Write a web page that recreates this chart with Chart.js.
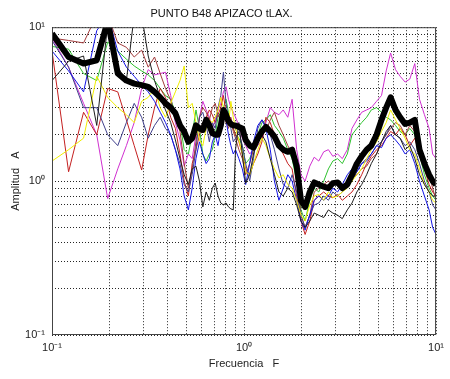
<!DOCTYPE html>
<html>
<head>
<meta charset="utf-8">
<script src="https://cdn.jsdelivr.net/npm/chart.js@4"></script>
<style>
  html, body { margin: 0; padding: 0; background: #fff; }
  #wrap { width: 450px; height: 379px; }
</style>
</head>
<body>
<div id="wrap"><canvas id="myChart"></canvas></div>
<script>
// frequencies (Hz) shared by all spectra
const freq = [
  0.1, 0.122, 0.146, 0.171, 0.195, 0.22, 0.244, 0.268, 0.293, 0.317,
  0.342, 0.366, 0.39, 0.415, 0.439, 0.464, 0.488, 0.513, 0.537, 0.562,
  0.586, 0.61, 0.635, 0.66, 0.684, 0.708, 0.732, 0.757, 0.781, 0.806,
  0.83, 0.854, 0.879, 0.903, 0.94, 0.98, 1.02, 1.07, 1.12, 1.18,
  1.24, 1.3, 1.37, 1.44, 1.52, 1.6, 1.69, 1.78, 1.88, 1.98,
  2.08, 2.2, 2.32, 2.45, 2.6, 2.75, 2.9, 3.07, 3.25, 3.45,
  3.65, 3.87, 4.1, 4.35, 4.6, 4.9, 5.2, 5.5, 5.8, 6.15,
  6.5, 6.9, 7.3, 7.75, 8.2, 8.7, 9.2, 9.6, 10
];

const promedio = [
  9.1, 6.4, 5.8, 6.1, 11, 5.0, 4.5, 4.3, 4.2, 4.1,
  3.8, 3.5, 3.2, 3.0, 2.76, 2.3, 2.1, 1.8, 1.9, 2.3,
  2.2, 2.15, 2.5, 2.3, 2.05, 2.0, 2.0, 2.3, 2.9, 2.7,
  2.45, 2.35, 2.3, 2.3, 2.25, 2.2, 1.85, 1.7, 1.65, 1.9,
  2.1, 2.25, 2.1, 1.95, 1.7, 1.6, 1.55, 1.6, 1.25, 0.75,
  0.68, 0.85, 0.98, 0.95, 0.92, 0.9, 0.97, 0.98, 0.9, 0.95,
  1.1, 1.3, 1.45, 1.6, 1.7, 2.0, 2.5, 3.0, 3.5, 2.9,
  2.6, 2.35, 2.4, 2.5, 1.6, 1.3, 1.1, 1.0, 0.95
];

const magenta = [
  8.5, 5.5, 3.2, 2.0, 0.77, 1.2, 1.7, 2.4, 4.0, 5.3,
  4.9, 5.0, 5.1, 3.6, 2.4, 1.85, 1.25, 1.5, 1.4, 2.0,
  2.6, 3.3, 2.9, 2.6, 2.2, 2.5, 2.9, 3.2, 3.8, 4.1,
  3.4, 3.0, 2.8, 2.6, 2.3, 1.9, 1.7, 1.5, 1.6, 1.7,
  1.85, 2.4, 3.0, 2.8, 2.7, 2.9, 2.6, 3.4, 1.6, 1.1,
  1.0, 1.25, 1.43, 1.35, 1.55, 1.6, 1.45, 1.5, 1.4, 1.6,
  2.2, 2.5, 2.8, 2.9, 3.0, 3.3, 3.6, 5.2, 6.8, 5.3,
  4.8, 4.4, 4.6, 5.8, 3.4, 2.7, 2.2, 1.5, 1.4
];

const verde = [
  7.5, 7.2, 5.0, 4.5, 8.0, 7.0, 6.2, 5.6, 5.2, 4.9,
  4.5, 4.0, 3.6, 3.4, 2.8, 2.4, 1.6, 1.5, 2.0, 2.9,
  2.2, 1.5, 1.35, 1.5, 1.6, 2.0, 2.6, 2.8, 3.0, 3.4,
  2.8, 2.4, 2.2, 2.0, 1.9, 1.7, 1.3, 1.4, 1.6, 2.0,
  2.4, 2.5, 2.7, 2.3, 2.1, 1.9, 1.6, 1.4, 1.0, 0.65,
  0.55, 0.75, 0.9, 0.85, 1.0, 1.2, 1.35, 1.4, 1.3, 1.5,
  2.0, 2.2, 2.4, 2.6, 2.9, 3.0, 2.8, 2.6, 2.5, 2.3,
  2.1, 2.0, 2.2, 2.0, 1.5, 1.1, 0.9, 0.8, 0.75
];

const rojo = [
  7.0, 1.15, 2.8, 2.0, 4.0, 3.8, 2.5, 1.7, 1.18, 2.0,
  3.0, 4.0, 3.5, 2.6, 2.2, 1.5, 1.0, 0.8, 1.3, 1.6,
  2.0, 2.4, 2.6, 2.9, 2.7, 2.4, 2.7, 3.0, 3.6, 2.8,
  2.5, 2.6, 2.2, 2.0, 1.8, 1.5, 1.2, 1.1, 1.3, 1.5,
  1.8, 2.6, 2.4, 2.0, 1.7, 1.5, 1.3, 1.2, 0.8, 0.55,
  0.45, 0.55, 0.75, 0.8, 0.85, 0.8, 0.78, 0.82, 0.75, 0.8,
  0.85, 0.95, 1.1, 1.3, 1.45, 1.6, 1.7, 1.9, 2.1, 2.0,
  2.2, 2.0, 1.7, 1.9, 1.5, 1.2, 0.95, 0.85, 0.8
];

const cafe = [
  8.5, 8.2, 7.9, 12, 12, 7.9, 7.4, 6.4, 7.1, 5.5,
  6.4, 5.0, 4.0, 3.35, 2.6, 2.1, 1.3, 0.9, 1.2, 1.8,
  2.6, 3.0, 2.8, 2.5, 3.0, 3.2, 2.7, 2.5, 2.8, 2.4,
  2.2, 2.5, 2.1, 1.9, 1.6, 1.4, 1.1, 1.3, 1.6, 1.9,
  2.2, 2.1, 2.5, 2.8, 2.3, 2.0, 1.7, 1.5, 1.1, 0.6,
  0.5, 0.6, 0.85, 0.9, 0.95, 1.0, 0.95, 1.0, 0.9, 0.95,
  1.05, 1.1, 1.2, 1.25, 1.4, 1.5, 1.8, 2.0, 2.2, 2.4,
  2.3, 2.0, 2.3, 2.1, 1.7, 1.3, 1.1, 0.9, 0.75
];

const marino = [
  8.2, 5.5, 3.0, 3.0, 2.0, 1.7, 2.4, 3.2, 2.6, 1.9,
  2.3, 2.6, 2.2, 2.0, 1.6, 1.3, 0.95, 0.85, 1.1, 1.6,
  2.6, 2.8, 2.3, 1.8, 2.4, 2.2, 3.0, 3.6, 5.1, 3.2,
  2.6, 2.2, 1.8, 1.9, 2.1, 1.7, 1.3, 1.0, 1.4, 2.2,
  2.5, 2.3, 2.0, 1.6, 1.2, 0.95, 0.9, 1.1, 0.85, 0.6,
  0.5, 0.6, 0.7, 0.72, 0.8, 0.75, 0.85, 0.8, 0.85, 0.95,
  1.0, 1.15, 1.3, 1.4, 1.5, 1.7, 1.8, 2.0, 2.3, 2.0,
  1.9, 1.7, 1.8, 1.6, 1.3, 1.0, 0.85, 0.7, 0.65
];

const azul = [
  7.0, 5.2, 3.8, 9.5, 12, 7.0, 5.5, 4.8, 4.2, 3.8,
  3.3, 2.8, 2.4, 2.0, 1.6, 1.2, 0.8, 0.65, 0.9, 1.4,
  1.8, 1.5, 1.3, 1.4, 1.8, 2.0, 1.7, 2.2, 2.8, 2.5,
  2.0, 1.7, 1.5, 1.6, 1.4, 1.2, 0.95, 1.3, 1.8, 2.3,
  2.5, 2.2, 1.6, 1.0, 0.75, 0.9, 1.1, 1.0, 0.75, 0.55,
  0.48, 0.6, 0.75, 0.8, 0.75, 0.8, 0.9, 0.85, 0.95, 1.1,
  1.2, 1.15, 1.3, 1.35, 1.5, 1.7, 1.65, 1.9, 2.0, 1.85,
  1.7, 1.5, 1.6, 1.3, 1.0, 0.8, 0.65, 0.5, 0.45
];

const amarillo = [
  1.35, 1.6, 1.9, 4.8, 3.5, 3.0, 2.7, 2.4, 3.3, 3.5,
  4.0, 3.0, 2.6, 3.2, 3.8, 4.5, 5.6, 3.0, 3.2, 2.4,
  1.85, 1.7, 2.2, 2.5, 2.4, 2.6, 2.9, 3.5, 3.0, 2.6,
  2.3, 3.3, 2.6, 2.2, 1.85, 1.5, 1.15, 1.1, 1.3, 1.6,
  1.9, 1.7, 1.4, 1.2, 1.05, 1.1, 0.95, 0.9, 0.75, 0.6,
  0.55, 0.7, 0.8, 0.82, 0.75, 0.85, 0.78, 0.8, 0.85, 0.9,
  1.0, 1.1, 1.2, 1.4, 1.6, 1.8, 2.1, 2.4, 2.9, 2.5,
  2.2, 1.9, 1.6, 1.5, 1.2, 0.95, 0.85, 0.75, 0.72
];

const negro = [
  4.5, 6.0, 6.5, 2.3, 10.5, 5.5, 4.5, 12, 12, 6.5,
  4.5, 3.5, 2.9, 2.4, 1.85, 1.4, 1.1, 0.95, 1.2, 1.25,
  1.0, 0.68, 0.85, 0.75, 0.9, 0.97, 0.8, 0.72, 0.7, 0.72,
  0.68, 0.66, 0.65, 1.6, 2.4, 1.5, 0.97, 1.1, 1.5, 1.9,
  2.0, 1.8, 1.4, 1.1, 0.85, 0.8, 0.9, 0.85, 0.7, 0.55,
  0.5, 0.55, 0.62, 0.6, 0.58, 0.65, 0.62, 0.6, 0.57, 0.65,
  0.72, 0.85, 0.95, 1.1, 1.3, 1.5, 1.8, 2.1, 2.3, 2.0,
  1.9, 1.6, 1.7, 1.4, 1.1, 0.95, 0.85, 0.8, 0.8
];

// grid positions of the log axes
const decadeTicks = [0.1, 0.2, 0.3, 0.4, 0.5, 0.6, 0.7, 0.8, 0.9, 1, 2, 3, 4, 5, 6, 7, 8, 9, 10];
const tickText = { 0.1: '10\u207B\u00B9', 1: '10\u2070', 10: '10\u00B9' };

function pts(vals) {
  return freq.map((f, i) => ({ x: f, y: vals[i] }));
}
function serie(vals, color, width) {
  return {
    data: pts(vals),
    borderColor: color,
    borderWidth: width,
    pointRadius: 0,
    tension: 0,
    clip: 0,
    borderJoinStyle: 'round'
  };
}

const data = {
  datasets: [
    serie(promedio, '#000000', 6),
    serie(negro, '#1e1e1e', 1),
    serie(amarillo, '#f0ee00', 1),
    serie(azul, '#1414e6', 1),
    serie(marino, '#40408c', 1),
    serie(cafe, '#a23c3c', 1),
    serie(rojo, '#c42020', 1),
    serie(verde, '#2ec22e', 1),
    serie(magenta, '#d030d0', 1)
  ]
};

const caja = {
  id: 'caja',
  afterDraw(chart) {
    const { ctx, chartArea: { left, top, width, height } } = chart;
    ctx.save();
    ctx.strokeStyle = '#444';
    ctx.lineWidth = 1;
    ctx.strokeRect(left + 0.5, top + 0.5, width - 1, height - 1);
    ctx.restore();
  }
};

const tickFont = { family: 'Liberation Sans, Arial, sans-serif', size: 11 };

function logAxis(extra) {
  return Object.assign({
    type: 'logarithmic',
    min: 0.1,
    max: 10,
    afterBuildTicks(scale) {
      scale.ticks = decadeTicks.map(v => ({ value: v }));
    },
    grid: {
      color: 'rgba(0,0,0,0.85)',
      lineWidth: 1,
      drawTicks: false,
      tickBorderDash: [1, 2]
    },
    border: { display: false, dash: [1, 2] },
    ticks: {
      autoSkip: false,
      maxRotation: 0,
      color: '#222',
      font: tickFont,
      callback: v => tickText[v] || ''
    }
  }, extra);
}

const config = {
  type: 'line',
  data: data,
  options: {
    responsive: true,
    maintainAspectRatio: false,
    animation: false,
    layout: { padding: { right: 7 }, autoPadding: false },
    plugins: {
      legend: { display: false },
      tooltip: { enabled: false },
      title: {
        display: true,
        text: 'PUNTO B48 APIZACO tLAX.',
        color: '#111',
        font: { family: 'Liberation Sans, Arial, sans-serif', size: 11, weight: 'normal' },
        padding: { top: 7, bottom: 7 }
      }
    },
    scales: {
      x: logAxis({
        position: 'bottom',
        afterFit(scale) { scale.height = 44; },
        title: {
          display: true,
          text: 'Frecuencia   F',
          color: '#222',
          font: { family: 'Liberation Sans, Arial, sans-serif', size: 11 },
          padding: { top: 0, bottom: 8 }
        }
      }),
      y: logAxis({
        position: 'left',
        afterFit(scale) { scale.width = 52; },
        title: {
          display: true,
          text: 'Amplitud   A',
          color: '#222',
          font: { family: 'Liberation Sans, Arial, sans-serif', size: 11 },
          padding: { top: 9, bottom: 0 }
        }
      })
    }
  },
  plugins: [caja]
};

// dotted grid lines
config.options.scales.x.grid.borderDash = [1, 2];
config.options.scales.y.grid.borderDash = [1, 2];
config.options.scales.x.ticks.padding = 6;
config.options.scales.y.ticks.padding = 7;

const myChart = new Chart(document.getElementById('myChart'), config);
</script>
</body>
</html>
